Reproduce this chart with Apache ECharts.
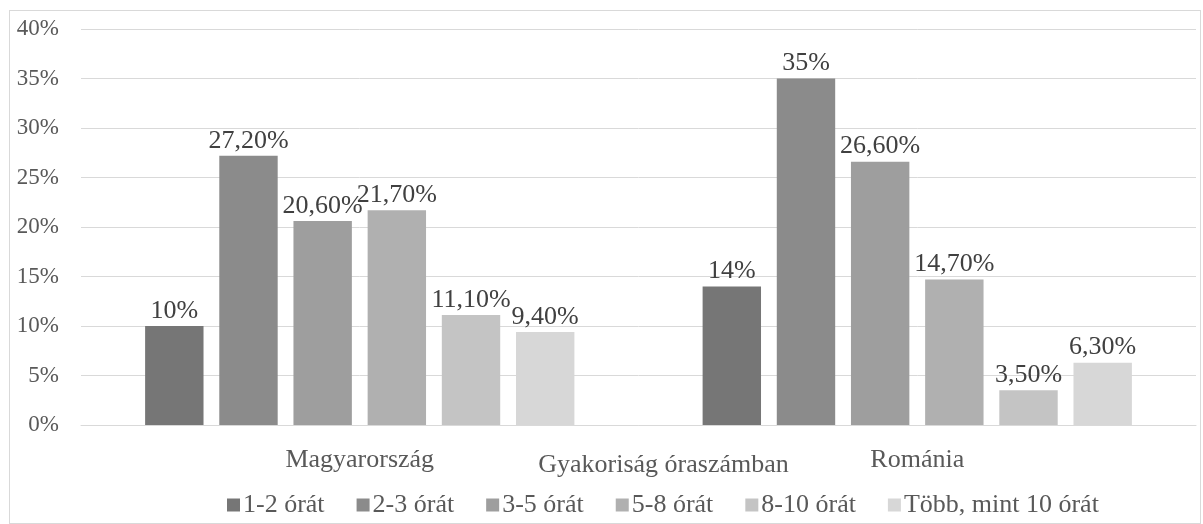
<!DOCTYPE html>
<html>
<head>
<meta charset="utf-8">
<script src="https://cdn.jsdelivr.net/npm/echarts@6/dist/echarts.min.js"></script>
<style>
  html, body { margin: 0; padding: 0; background: #fff; }
  #chart { position: absolute; left: 9px; top: 10px; width: 1192px; height: 514px; border: 1px solid #d9d9d9; box-sizing: border-box; }
</style>
</head>
<body>
<div id="chart"></div>
<script>
// Gyakoriság óraszámban
const countries = ['Magyarország', 'Románia'];
const seriesNames = ['1-2 órát', '2-3 órát', '3-5 órát', '5-8 órát', '8-10 órát', 'Több, mint 10 órát'];
const hoursData = [
    [10, 14],
    [27.2, 35],
    [20.6, 26.6],
    [21.7, 14.7],
    [11.1, 3.5],
    [9.4, 6.3]
];
const labelText = [
    ['10%', '14%'],
    ['27,20%', '35%'],
    ['20,60%', '26,60%'],
    ['21,70%', '14,70%'],
    ['11,10%', '3,50%'],
    ['9,40%', '6,30%']
];
const colors = ['#767676', '#8b8b8b', '#9e9e9e', '#b0b0b0', '#c4c4c4', '#d7d7d7'];
const font = 'Liberation Serif';

const myChart = echarts.init(document.getElementById('chart'));

const option = {
    animation: false,
    textStyle: { fontFamily: font },
    grid: { left: 71, right: 4, top: 18, bottom: 98 },
    legend: {
        top: 476,
        left: 212,
        itemWidth: 13,
        itemHeight: 13,
        itemGap: 32,
        icon: 'rect',
        textStyle: { fontFamily: font, fontSize: 26, color: '#595959', padding: [0, 0, 0, -2] },
        data: seriesNames
    },
    xAxis: {
        type: 'category',
        data: countries,
        name: 'Gyakoriság óraszámban',
        nameLocation: 'middle',
        nameGap: 27,
        nameMoveOverlap: false,
        nameTextStyle: { fontFamily: font, fontSize: 26, color: '#595959', padding: [0, 0, 0, 50] },
        axisLine: { lineStyle: { color: '#d9d9d9', width: 1 } },
        axisTick: { show: false },
        axisLabel: { fontFamily: font, fontSize: 26, color: '#595959', margin: 22 }
    },
    yAxis: {
        type: 'value',
        min: 0,
        max: 40,
        interval: 5,
        axisLine: { show: false },
        axisTick: { show: false },
        axisLabel: { formatter: '{value}%', fontFamily: font, fontSize: 23, color: '#595959', margin: 22 },
        splitLine: { lineStyle: { color: '#d9d9d9', width: 1 } }
    },
    series: seriesNames.map((name, i) => ({
        name: name,
        type: 'bar',
        data: hoursData[i],
        barGap: '27%',
        barCategoryGap: '23%',
        itemStyle: { color: colors[i] },
        label: {
            show: true,
            position: 'top',
            distance: 2,
            fontFamily: font,
            fontSize: 26,
            color: '#404040',
            formatter: p => labelText[i][p.dataIndex]
        }
    }))
};

myChart.setOption(option);
</script>
</body>
</html>
